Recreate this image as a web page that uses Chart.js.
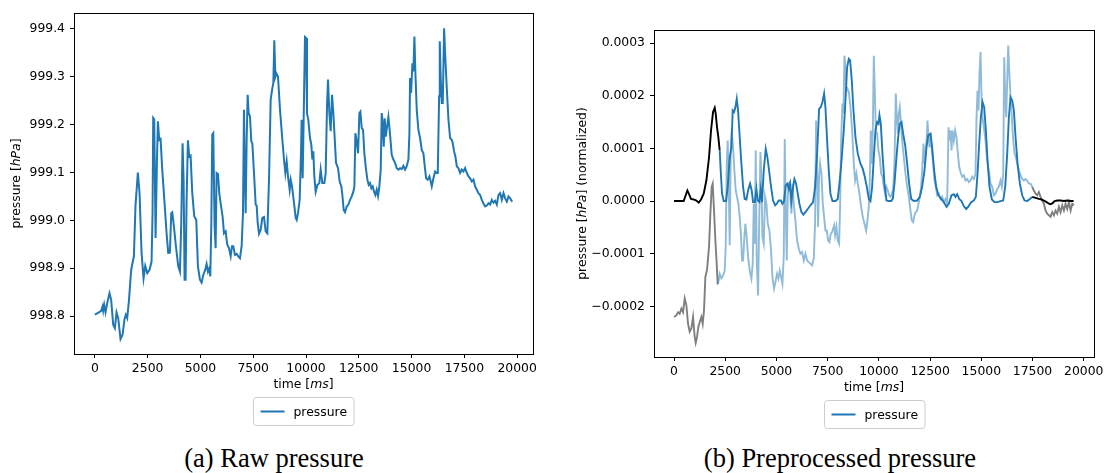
<!DOCTYPE html>
<html>
<head>
<meta charset="utf-8">
<script src="https://cdn.jsdelivr.net/npm/chart.js@4.4.0/dist/chart.umd.min.js"></script>
<style>
  body { margin: 0; background: #fff; width: 1107px; height: 473px; overflow: hidden; position: relative; }
  .box { position: absolute; top: 0; height: 440px; }
  #boxA { left: 0; width: 553px; }
  #boxB { left: 553px; width: 554px; }
  .caption { position: absolute; top: 443px; font-family: "Liberation Serif", serif; font-size: 26.5px; line-height: 30px; text-align: center; color: #000; white-space: nowrap; }
</style>
</head>
<body>
<div class="box" id="boxA"><canvas id="rawChart"></canvas></div>
<div class="box" id="boxB"><canvas id="prepChart"></canvas></div>
<div class="caption" style="left:124px;width:300px">(a) Raw pressure</div>
<div class="caption" style="left:690px;width:300px">(b) Preprocessed pressure</div>
<script>
// ---- data ----
const xTicks = [0, 2500, 5000, 7500, 10000, 12500, 15000, 17500, 20000];
const rawYTicks = [998.8, 998.9, 999.0, 999.1, 999.2, 999.3, 999.4];
const prepYTicks = [-0.0002, -0.0001, 0, 0.0001, 0.0002, 0.0003];

// (a) raw pressure [hPa]
const rawTime = [
	0, 190, 300, 363, 395, 442, 506, 585, 695, 774, 869, 948, 1027, 1106, 1217, 1311, 1406, 1469, 1532, 1612,
	1722, 1849, 1928, 2038, 2117, 2212, 2307, 2386, 2481, 2591, 2686, 2733, 2765, 2812, 2876, 2939, 2986, 3049, 3113, 3192,
	3302, 3397, 3476, 3555, 3618, 3666, 3745, 3839, 3950, 4029, 4092, 4155, 4203, 4250, 4298, 4345, 4408, 4471, 4535, 4614,
	4708, 4803, 4882, 4977, 5056, 5135, 5230, 5293, 5356, 5419, 5467, 5514, 5561, 5609, 5672, 5720, 5767, 5830, 5893, 5957,
	6051, 6115, 6194, 6273, 6352, 6432, 6494, 6557, 6636, 6715, 6794, 6873, 6952, 7015, 7063, 7094, 7142, 7189, 7237, 7284,
	7347, 7410, 7458, 7537, 7616, 7663, 7710, 7774, 7853, 7932, 8011, 8090, 8169, 8248, 8327, 8406, 8453, 8500, 8548, 8595,
	8674, 8769, 8880, 8959, 9022, 9085, 9148, 9227, 9275, 9338, 9433, 9512, 9559, 9622, 9701, 9762, 9794, 9841, 9889, 9952,
	10000, 10047, 10110, 10189, 10252, 10300, 10347, 10394, 10458, 10537, 10632, 10695, 10774, 10869, 10932, 10995, 11042, 11106, 11169, 11232,
	11295, 11358, 11421, 11516, 11595, 11674, 11722, 11785, 11848, 11927, 12006, 12085, 12164, 12243, 12291, 12338, 12402, 12465, 12528, 12575,
	12638, 12701, 12764, 12843, 12907, 12970, 13033, 13096, 13159, 13223, 13286, 13349, 13412, 13475, 13539, 13586, 13633, 13681, 13728, 13776,
	13839, 13902, 13981, 14060, 14139, 14218, 14297, 14376, 14455, 14534, 14613, 14692, 14771, 14850, 14897, 14929, 14976, 15039, 15086, 15134,
	15181, 15244, 15323, 15402, 15481, 15560, 15624, 15687, 15766, 15845, 15908, 15956, 16035, 16114, 16177, 16240, 16304, 16335, 16382, 16430,
	16477, 16540, 16588, 16667, 16746, 16825, 16904, 16951, 17014, 17077, 17140, 17219, 17298, 17377, 17457, 17536, 17615, 17694, 17773, 17852,
	17931, 18010, 18089, 18168, 18247, 18326, 18405, 18484, 18563, 18642, 18721, 18800, 18879, 18958, 19037, 19116, 19195, 19274, 19353, 19432,
	19511, 19590, 19669, 19764
];
const rawPressure = [
	998.803, 998.808, 998.811, 998.820, 998.811, 998.824, 998.808, 998.827, 998.848, 998.834, 998.782, 998.775, 998.808, 998.796, 998.752, 998.761, 998.794, 998.803, 998.796, 998.831,
	998.897, 998.925, 999.033, 999.100, 999.057, 998.932, 998.879, 998.905, 998.890, 998.897, 998.914, 999.015, 999.214, 999.211, 998.963, 999.120, 999.207, 999.168, 999.170, 999.106,
	999.036, 998.973, 998.932, 998.933, 999.015, 999.017, 998.987, 998.946, 998.904, 998.893, 998.994, 999.161, 999.085, 998.876, 998.876, 999.043, 999.167, 999.133, 999.135, 999.057,
	999.008, 999.001, 998.904, 998.876, 998.870, 998.886, 998.897, 998.909, 998.893, 998.900, 998.883, 998.987, 999.179, 999.182, 998.987, 998.942, 999.099, 999.097, 999.057, 999.036,
	999.008, 998.973, 998.977, 998.949, 998.942, 998.925, 998.946, 998.946, 998.928, 998.930, 998.925, 998.921, 998.946, 999.015, 999.231, 999.120, 999.015, 999.168, 999.262, 999.224,
	999.217, 999.165, 999.161, 999.099, 999.033, 999.031, 998.996, 998.972, 998.980, 999.005, 999.007, 998.977, 998.973, 999.085, 999.252, 999.276, 999.287, 999.376, 999.300, 999.307,
	999.300, 999.231, 999.168, 999.127, 999.099, 999.123, 999.092, 999.064, 999.085, 999.071, 999.036, 999.005, 999.001, 999.015, 999.043, 999.140, 999.210, 999.088, 999.210, 999.383,
	999.381, 999.224, 999.210, 999.172, 999.158, 999.127, 999.144, 999.092, 999.060, 999.074, 999.078, 999.106, 999.078, 999.078, 999.099, 999.238, 999.294, 999.224, 999.186, 999.262,
	999.224, 999.172, 999.120, 999.109, 999.081, 999.071, 999.053, 999.022, 999.017, 999.029, 999.033, 999.043, 999.050, 999.060, 999.071, 999.182, 999.165, 999.140, 999.224, 999.227,
	999.193, 999.189, 999.140, 999.106, 999.085, 999.074, 999.078, 999.067, 999.071, 999.060, 999.053, 999.064, 999.051, 999.071, 999.106, 999.224, 999.203, 999.154, 999.213, 999.175,
	999.196, 999.216, 999.179, 999.137, 999.127, 999.120, 999.109, 999.106, 999.109, 999.107, 999.114, 999.106, 999.113, 999.127, 999.182, 999.297, 999.266, 999.328, 999.311, 999.384,
	999.307, 999.231, 999.189, 999.172, 999.147, 999.140, 999.113, 999.088, 999.085, 999.092, 999.081, 999.071, 999.088, 999.102, 999.099, 999.099, 999.259, 999.374, 999.294, 999.245,
	999.245, 999.401, 999.349, 999.276, 999.210, 999.172, 999.168, 999.161, 999.144, 999.133, 999.113, 999.109, 999.099, 999.106, 999.102, 999.109, 999.099, 999.092, 999.088, 999.081,
	999.085, 999.071, 999.064, 999.057, 999.053, 999.043, 999.035, 999.029, 999.031, 999.036, 999.033, 999.043, 999.037, 999.041, 999.033, 999.053, 999.057, 999.043, 999.057, 999.046,
	999.039, 999.050, 999.046, 999.039
];

// (b) smoothed pressure, in units of 1e-4 hPa (black at the edges, blue in the middle)
const smoothTime = [
	0, 472, 570, 651, 733, 830, 960, 1091, 1205, 1319, 1449, 1579, 1709, 1807, 1905, 1986, 2035, 2100, 2165, 2230,
	2279, 2344, 2426, 2540, 2621, 2719, 2800, 2865, 2930, 2996, 3061, 3126, 3207, 3289, 3370, 3451, 3533, 3614, 3712, 3793,
	3858, 3940, 4021, 4086, 4168, 4233, 4298, 4379, 4477, 4558, 4640, 4737, 4835, 4933, 5014, 5112, 5216, 5291, 5372, 5454,
	5535, 5600, 5665, 5730, 5812, 5877, 5958, 6040, 6121, 6219, 6317, 6414, 6528, 6658, 6789, 6886, 6984, 7082, 7163, 7244,
	7326, 7391, 7473, 7554, 7635, 7733, 7880, 7993, 8091, 8189, 8286, 8368, 8449, 8531, 8596, 8677, 8759, 8857, 8970, 9101,
	9215, 9312, 9410, 9508, 9589, 9670, 9752, 9833, 9914, 9980, 10028, 10093, 10175, 10273, 10370, 10484, 10598, 10679, 10761, 10858,
	10940, 11021, 11103, 11184, 11282, 11380, 11477, 11575, 11705, 11868, 11998, 12112, 12226, 12324, 12405, 12519, 12600, 12698, 12796, 12910,
	13040, 13170, 13300, 13414, 13545, 13659, 13740, 13821, 13919, 14033, 14147, 14261, 14375, 14505, 14636, 14733, 14815, 14896, 14978, 15059,
	15140, 15222, 15303, 15401, 15515, 15645, 15775, 15938, 16068, 16166, 16264, 16345, 16426, 16508, 16589, 16671, 16768, 16882, 16996, 17110,
	17240, 17371, 17485, 17648, 17810, 17941, 18054, 18185, 18299, 18380, 18478, 18575, 18705, 18868, 19031, 19194, 19357, 19504
];
const smoothPressure = [
	0, 0, 0.11, 0.20, 0.13, 0.04, 0.03, 0.01, -0.03, 0.03, 0.14, 0.39, 0.83, 1.34, 1.69, 1.77, 1.66, 1.40, 1.21, 0.96,
	0.58, 0.14, 0, 0, 0.27, 0.83, 1.02, 1.72, 1.69, 1.78, 1.94, 1.72, 1.21, 0.71, 0.27, 0.04, 0.03, 0.20, 0.33, 0.20,
	-0.02, -0.02, 0.23, 0.01, -0.02, 0.22, -0.02, 0.58, 0.99, 0.83, 0.58, 0.27, 0.01, -0.08, -0.05, 0.01, 0.01, -0.05, 0, 0.30,
	0.33, 0.23, 0.33, 0.01, 0.27, 0.42, 0.33, 0.14, -0.05, -0.21, -0.26, -0.21, -0.15, -0.08, -0.02, 0.27, 0.90, 1.75, 1.78, 1.88,
	2.04, 1.78, 1.15, 0.58, 0.14, 0, 0, 0.04, 0.39, 0.83, 1.34, 1.91, 2.54, 2.70, 2.67, 2.29, 1.72, 1.21, 0.90, 0.71,
	0.61, 0.46, 0.27, 0.04, 0, 0.27, 0.83, 1.34, 1.50, 1.47, 1.63, 1.47, 0.90, 0.33, 0.01, 0, 0, 0.04, 0.33, 0.83,
	1.21, 1.47, 1.50, 1.28, 1.06, 0.71, 0.33, 0.04, 0, 0.01, 0.08, 0.27, 0.58, 1.02, 1.25, 1.28, 1.02, 0.58, 0.27, 0.11,
	0.04, -0.02, -0.11, -0.05, 0.11, 0.13, 0.08, 0.13, 0.04, 0, -0.10, -0.15, -0.10, -0.02, 0.01, 0.08, 0.52, 1.09, 1.59, 1.88,
	1.78, 1.34, 0.77, 0.27, 0.03, -0.02, -0.02, 0, 0.01, 0.27, 0.90, 1.59, 1.97, 1.91, 1.72, 1.21, 0.71, 0.33, 0.11, 0.01,
	0, 0.04, 0.08, 0.06, 0.04, 0.03, 0.01, -0.02, -0.05, -0.06, -0.04, 0, 0.01, 0.01, 0, 0.01, 0, 0
];

// (b) normalized pressure, in units of 1e-4 hPa (grey at the edges, light blue in the middle)
const normTime = [
	0, 115, 197, 278, 359, 441, 522, 604, 685, 766, 848, 929, 1010, 1058, 1123, 1188, 1253, 1335, 1400, 1465,
	1530, 1611, 1709, 1774, 1839, 1888, 1953, 2018, 2083, 2132, 2149, 2230, 2312, 2393, 2475, 2523, 2572, 2621, 2670, 2719,
	2768, 2816, 2882, 2947, 3012, 3077, 3142, 3207, 3272, 3321, 3370, 3435, 3484, 3549, 3614, 3696, 3777, 3842, 3891, 3940,
	3989, 4037, 4103, 4151, 4217, 4265, 4314, 4379, 4444, 4510, 4575, 4656, 4737, 4802, 4884, 4965, 5030, 5096, 5161, 5226,
	5291, 5356, 5405, 5454, 5503, 5551, 5600, 5649, 5698, 5730, 5779, 5844, 5926, 6007, 6089, 6170, 6252, 6333, 6414, 6496,
	6577, 6658, 6740, 6821, 6886, 6935, 6984, 7033, 7082, 7131, 7196, 7261, 7326, 7391, 7456, 7521, 7586, 7652, 7717, 7766,
	7814, 7863, 7928, 7993, 8058, 8107, 8156, 8221, 8270, 8319, 8368, 8417, 8465, 8531, 8612, 8694, 8775, 8840, 8905, 8970,
	9051, 9133, 9214, 9296, 9377, 9442, 9508, 9556, 9605, 9654, 9703, 9752, 9800, 9849, 9914, 9979, 10045, 10110, 10175, 10240,
	10305, 10370, 10435, 10500, 10566, 10631, 10696, 10761, 10826, 10875, 10924, 10973, 11021, 11070, 11135, 11217, 11298, 11380, 11461, 11542,
	11607, 11672, 11738, 11803, 11868, 11933, 11998, 12063, 12128, 12177, 12226, 12275, 12324, 12373, 12421, 12470, 12519, 12584, 12649, 12714,
	12780, 12845, 12926, 13008, 13089, 13170, 13252, 13333, 13398, 13447, 13496, 13545, 13594, 13659, 13724, 13789, 13854, 13919, 13984, 14066,
	14147, 14228, 14310, 14391, 14472, 14554, 14635, 14717, 14766, 14815, 14863, 14912, 14961, 15010, 15059, 15124, 15205, 15287, 15368, 15450,
	15531, 15612, 15694, 15775, 15857, 15938, 16003, 16068, 16117, 16166, 16215, 16264, 16312, 16361, 16426, 16491, 16556, 16622, 16687, 16752,
	16833, 16915, 16996, 17077, 17159, 17240, 17321, 17403, 17485, 17566, 17648, 17729, 17810, 17891, 17973, 18054, 18136, 18217, 18299, 18380,
	18461, 18543, 18624, 18705, 18787, 18868, 18950, 19031, 19112, 19194, 19275, 19357, 19438, 19520
];
const normPressure = [
	-2.20, -2.17, -2.11, -2.14, -2.04, -2.11, -1.85, -1.98, -2.33, -2.48, -2.42, -2.20, -2.58, -2.69, -2.58, -2.39, -2.30, -2.20, -2.33, -2.07,
	-1.44, -1.31, -0.87, -0.24, 0.27, 0.33, -0.18, -0.74, -1.19, -1.57, -1.57, -1.38, -1.47, -1.41, -1.32, -0.87, 0.71, 1.15, 0.27, -0.84,
	0.90, 1.34, 1.02, 0.58, 0.20, 0.08, -0.05, -0.30, -0.68, -1.13, -1.13, -0.68, -0.43, -0.68, -1.06, -1.32, -1.47, -1.19, -0.05, -0.81,
	0.96, -1.13, -1.79, -0.56, 0.93, 0.46, -0.68, -0.81, 0.08, -0.05, -0.43, -0.56, -0.94, -1.44, -1.66, -1.51, -1.38, -1.47, -1.32, -1.44,
	-1.57, -1.06, 1.18, -0.24, -1.13, 0.08, 0.33, 0.36, -0.05, -0.24, 0.33, -0.05, -0.37, -0.75, -0.90, -1.00, -0.97, -1.13, -1.00, -1.13,
	-1.16, -1.19, -1.22, -1.09, -0.43, 1.53, 0.58, -0.49, 0.46, 0.71, 0.52, -0.05, -0.30, -0.56, -0.56, -0.75, -0.78, -0.62, -0.59, -0.52,
	-0.46, -0.65, -0.49, -0.75, -0.81, -0.11, 1.15, 1.85, 1.66, 2.76, 2.54, 2.10, 2.13, 2.07, 1.78, 1.34, 0.71, 0.39, 0.52, 0.33,
	0.14, -0.11, -0.30, -0.43, -0.56, -0.37, -0.11, 0.39, 1.34, 0.71, 1.34, 2.76, 2.10, 1.34, 1.28, 0.96, 0.83, 0.52, 0.46, 0.27,
	0.14, 0.27, 0.20, 0.11, 0.08, 0.14, 0.23, 0.71, 2.04, 1.59, 1.28, 1.66, 1.78, 1.53, 1.15, 0.83, 0.52, 0.27, 0.08, -0.18,
	-0.37, -0.40, -0.27, -0.21, -0.18, -0.05, 0.08, 0.27, 0.71, 1.09, 0.71, 0.90, 1.15, 1.53, 1.21, 1.02, 1.28, 0.96, 0.71, 0.39,
	0.27, 0.11, 0.14, 0.04, 0.08, -0.02, 0.04, -0.05, 1.40, 1.15, 1.34, 0.96, 1.34, 1.15, 1.34, 1.21, 0.90, 0.65, 0.55, 0.46,
	0.49, 0.39, 0.42, 0.36, 0.39, 0.46, 0.42, 0.52, 1.59, 2.10, 1.72, 2.42, 2.83, 1.97, 1.59, 1.40, 1.15, 0.77, 0.58, 0.33,
	0.27, 0.11, 0.14, 0.23, 0.27, 0.39, 0.27, 0.52, 2.73, 1.97, 1.59, 2.29, 2.95, 2.48, 1.97, 1.59, 1.15, 0.90, 0.83, 0.71,
	0.58, 0.49, 0.42, 0.39, 0.42, 0.39, 0.33, 0.33, 0.27, 0.20, 0.14, 0.11, 0.17, 0.08, 0.01, -0.05, -0.18, -0.24, -0.27, -0.30,
	-0.21, -0.27, -0.18, -0.24, -0.11, -0.21, -0.08, -0.18, -0.05, -0.15, -0.02, -0.18, -0.05, -0.08
];

// time ranges (ms) drawn in black / grey in panel (b)
const smoothEdge = [2200, 17440];
const normEdge = [2140, 17440];

const BLUE = "#1f77b4";
const LIGHT_BLUE = "rgba(31, 119, 180, 0.5)";
const GREY = "rgba(0, 0, 0, 0.5)";
const TICK_FONT = { family: "DejaVu Sans", size: 12.4 };

function toPoints(xs, ys, scale) {
	return xs.map((x, i) => ({ x: x, y: ys[i] * scale }));
}

function edgeColor(edge, inside, outside) {
	return (ctx) => {
		const t = ctx.p0.parsed.x;
		return t < edge[0] || t > edge[1] ? outside : inside;
	};
}

// draws text with some italic pieces, centred on (x, y)
function drawMixed(ctx, parts, x, y, rot) {
	ctx.save();
	ctx.translate(x, y);
	ctx.rotate(rot);
	ctx.textBaseline = "middle";
	ctx.textAlign = "left";
	ctx.fillStyle = "#000";
	const fontOf = (p) => (p.i ? "italic " : "") + "12.4px 'DejaVu Sans'";
	let total = 0;
	parts.forEach((p) => {
		ctx.font = fontOf(p);
		total += ctx.measureText(p.t).width;
	});
	let cx = -total / 2;
	parts.forEach((p) => {
		ctx.font = fontOf(p);
		ctx.fillText(p.t, cx, 0);
		cx += ctx.measureText(p.t).width;
	});
	ctx.restore();
}

// frame, axis titles and legend box in matplotlib style
const mplDecor = {
	id: "mplDecor",
	afterDraw(chart, args, opts) {
		const { ctx, chartArea: a } = chart;
		ctx.save();
		ctx.strokeStyle = "#000";
		ctx.lineWidth = 1;
		ctx.strokeRect(Math.round(a.left) + 0.5, Math.round(a.top) + 0.5, Math.round(a.right - a.left), Math.round(a.bottom - a.top));

		const cx = (a.left + a.right) / 2;
		drawMixed(ctx, opts.xTitle, cx, a.bottom + 31, 0);
		drawMixed(ctx, opts.yTitle, opts.yTitleX, (a.top + a.bottom) / 2, -Math.PI / 2);

		// legend
		ctx.font = "12.4px 'DejaVu Sans'";
		const label = "pressure";
		const tw = ctx.measureText(label).width;
		const w = 7 + 24 + 9 + tw + 7;
		const h = 28;
		const lx = Math.round(cx - w / 2) + 0.5;
		const ly = Math.round(a.bottom + 43) + 0.5;
		ctx.strokeStyle = "#cccccc";
		ctx.beginPath();
		ctx.roundRect(lx, ly, w, h, 3);
		ctx.stroke();
		ctx.strokeStyle = BLUE;
		ctx.lineWidth = 2;
		ctx.beginPath();
		ctx.moveTo(lx + 7, ly + h / 2);
		ctx.lineTo(lx + 31, ly + h / 2);
		ctx.stroke();
		ctx.fillStyle = "#000";
		ctx.textBaseline = "middle";
		ctx.fillText(label, lx + 40, ly + h / 2 + 1);
		ctx.restore();
	},
};

function makeChart(id, datasets, o) {
	return new Chart(document.getElementById(id), {
		type: "line",
		data: { datasets: datasets },
		options: {
			animation: false,
			responsive: true,
			maintainAspectRatio: false,
			layout: { padding: { top: o.top, right: o.right, left: 0, bottom: 0 } },
			elements: { point: { radius: 0 }, line: { tension: 0 } },
			plugins: {
				legend: { display: false },
				tooltip: { enabled: false },
				mplDecor: { xTitle: o.xTitle, yTitle: o.yTitle, yTitleX: o.yTitleX },
			},
			scales: {
				x: {
					type: "linear",
					min: o.xMin,
					max: o.xMax,
					afterBuildTicks: (s) => { s.ticks = xTicks.map((v) => ({ value: v })); },
					afterFit: (s) => { s.height = o.xHeight; },
					grid: { drawOnChartArea: false, tickLength: 4, tickColor: "#000", tickWidth: 1 },
					border: { display: false },
					ticks: { font: TICK_FONT, color: "#000", padding: 3, maxRotation: 0, callback: (v) => String(v) },
				},
				y: {
					type: "linear",
					min: o.yMin,
					max: o.yMax,
					afterBuildTicks: (s) => { s.ticks = o.yTicks.map((v) => ({ value: v })); },
					afterFit: (s) => { s.width = o.yWidth; },
					grid: { drawOnChartArea: false, tickLength: 4, tickColor: "#000", tickWidth: 1 },
					border: { display: false },
					ticks: { font: TICK_FONT, color: "#000", padding: 5, callback: o.yFormat },
				},
			},
		},
		plugins: [mplDecor],
	});
}

makeChart("rawChart", [
	{ label: "pressure", data: toPoints(rawTime, rawPressure, 1), borderColor: BLUE, borderWidth: 2 },
], {
	top: 13, right: 20, xHeight: 86, yWidth: 74,
	xMin: -987, xMax: 20750, yMin: 998.721, yMax: 999.433,
	yTicks: rawYTicks,
	yFormat: (v) => v.toFixed(1),
	xTitle: [{ t: "time [" }, { t: "ms", i: true }, { t: "]" }],
	yTitle: [{ t: "pressure [" }, { t: "hPa", i: true }, { t: "]" }],
	yTitleX: 17,
});

makeChart("prepChart", [
	{
		label: "pressure",
		data: toPoints(smoothTime, smoothPressure, 1e-4),
		borderWidth: 1.9,
		borderColor: BLUE,
		segment: { borderColor: edgeColor(smoothEdge, BLUE, "#000") },
	},
	{
		label: "normalized",
		data: toPoints(normTime, normPressure, 1e-4),
		borderWidth: 1.9,
		borderColor: LIGHT_BLUE,
		segment: { borderColor: edgeColor(normEdge, LIGHT_BLUE, GREY) },
	},
], {
	top: 30, right: 13, xHeight: 83, yWidth: 101,
	xMin: -977, xMax: 20500, yMin: -0.000296, yMax: 0.0003247,
	yTicks: prepYTicks,
	yFormat: (v) => (v < -1e-9 ? "\u2212" : "") + Math.abs(v).toFixed(4),
	xTitle: [{ t: "time [" }, { t: "ms", i: true }, { t: "]" }],
	yTitle: [{ t: "pressure [" }, { t: "hPa", i: true }, { t: "] (normalized)" }],
	yTitleX: 30,
});
</script>
</body>
</html>
